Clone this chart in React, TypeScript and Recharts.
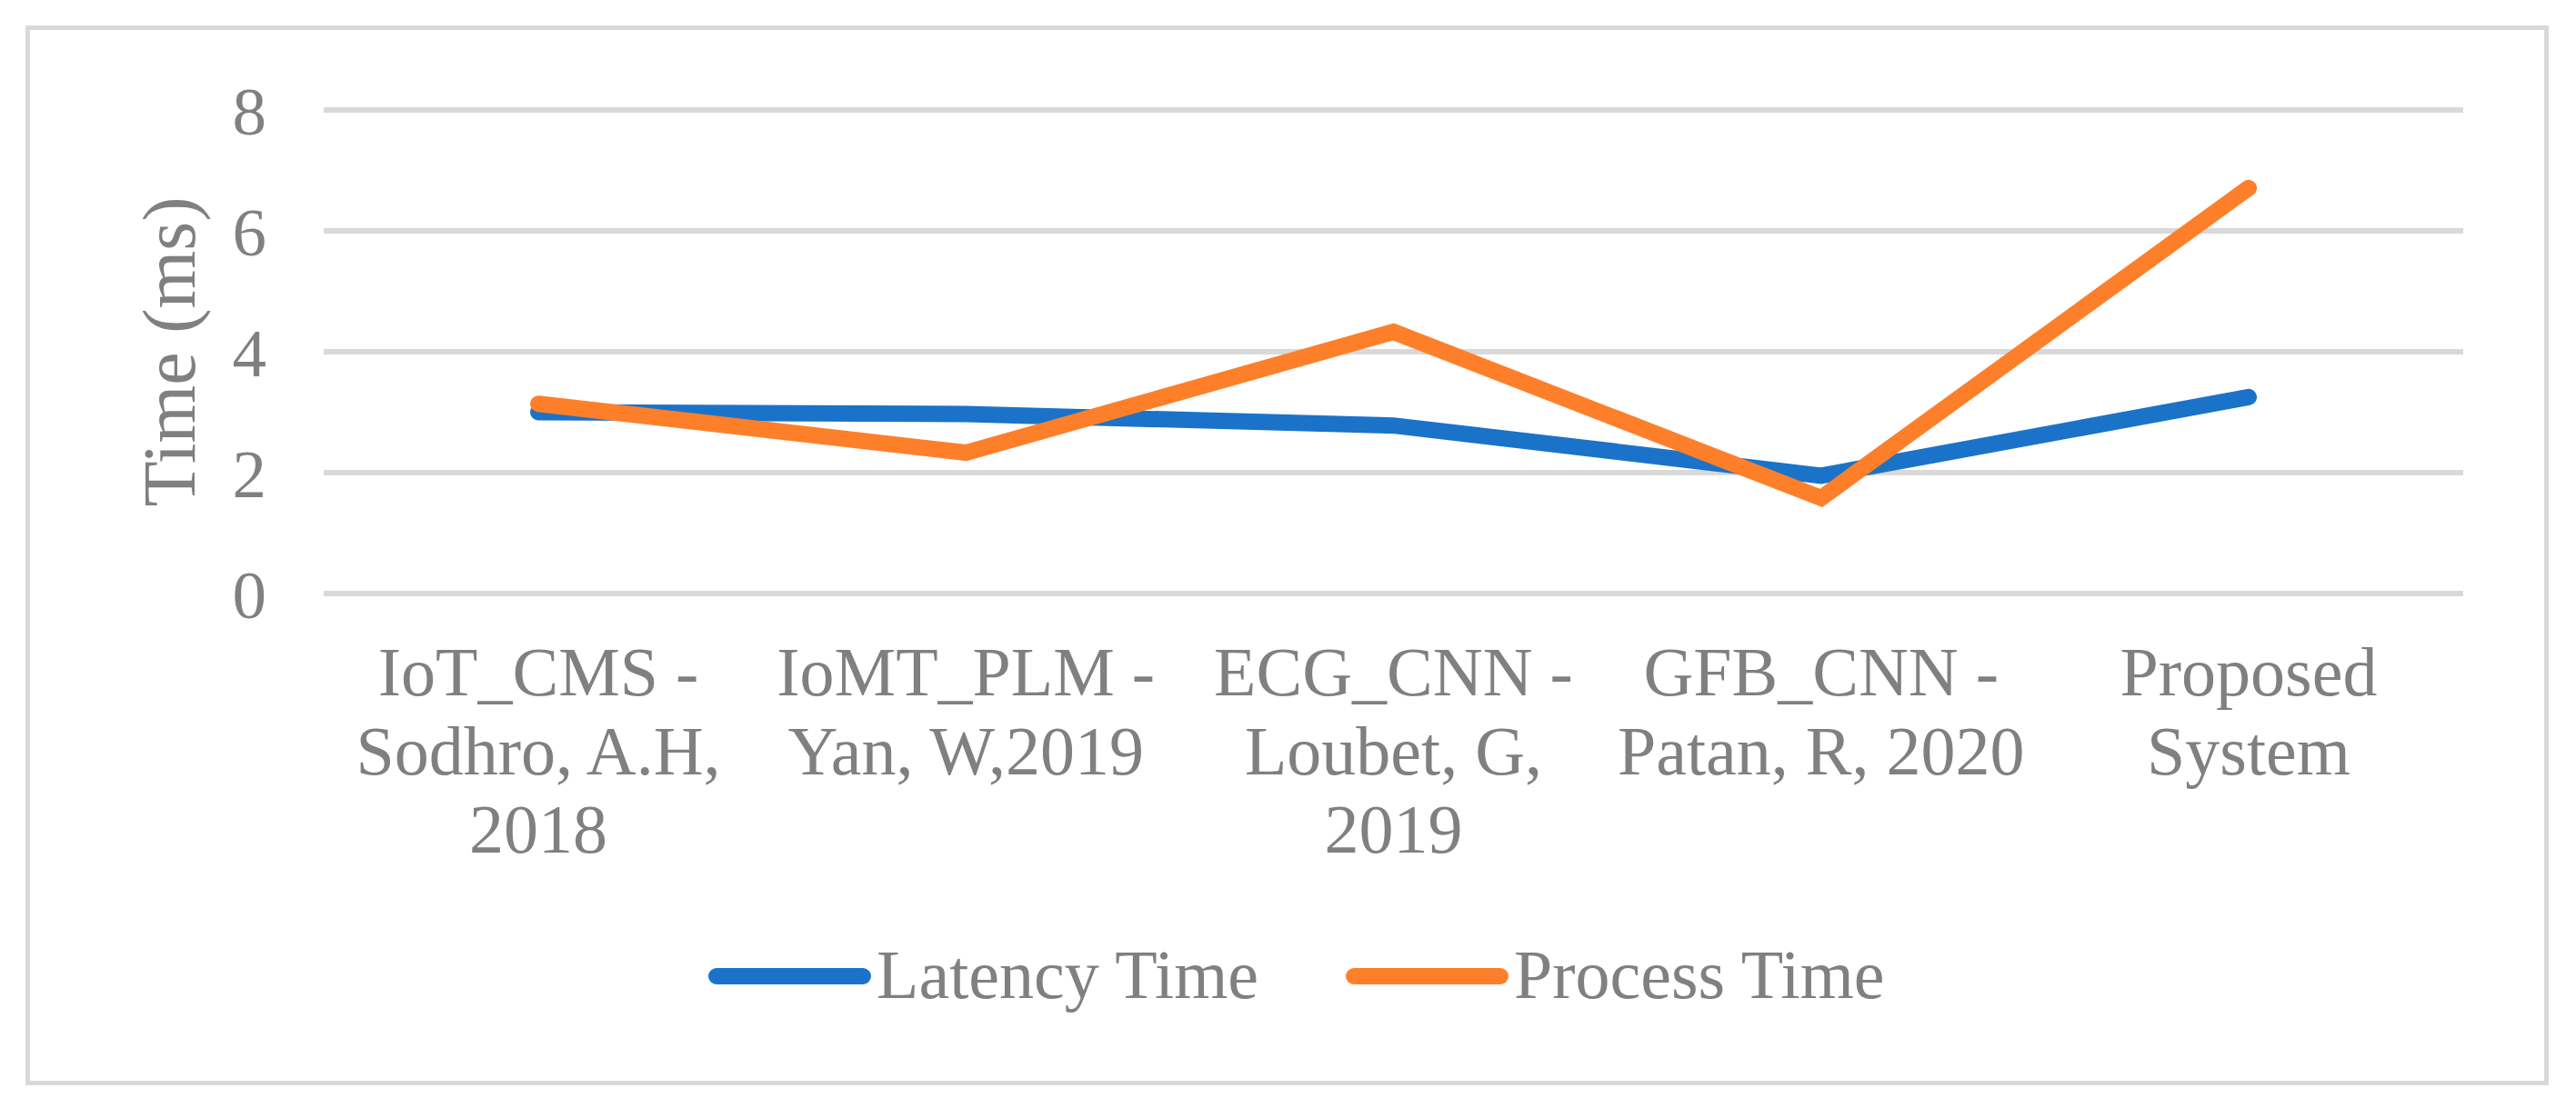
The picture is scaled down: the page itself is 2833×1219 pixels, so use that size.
import React from "react";
import { CartesianGrid, Line, LineChart, XAxis, YAxis } from "recharts";

const categories = [
  "IoT_CMS -\nSodhro, A.H,\n2018",
  "IoMT_PLM -\nYan, W,2019",
  "ECG_CNN -\nLoubet, G,\n2019",
  "GFB_CNN -\nPatan, R, 2020",
  "Proposed\nSystem",
];
const latencyTime = [3.0, 2.97, 2.78, 1.95, 3.25];
const processTime = [3.14, 2.33, 4.33, 1.58, 6.71];
const yTicks = [0, 2, 4, 6, 8];

const seriesNames = ["Latency Time", "Process Time"];
const seriesColors = ["#1A73C8", "#FE7F2A"];

const data = categories.map((name, i) => ({
  name,
  latency: latencyTime[i],
  process: processTime[i],
}));

const font = '"Liberation Serif", "Times New Roman", serif';
const textColor = "#808080";
const W = 2833;
const H = 1219;

function CategoryTick({ x, y, payload }: any) {
  const lines = String(payload.value).split("\n");
  return (
    <text x={x} textAnchor="middle" fill={textColor} fontFamily={font} fontSize={76}>
      {lines.map((line, i) => (
        <tspan key={i} x={x} y={y + 112 + i * 86.5}>
          {line}
        </tspan>
      ))}
    </text>
  );
}

function YTitle({ viewBox }: any) {
  const cx = 214;
  const cy = viewBox ? viewBox.y + viewBox.height / 2 : 387;
  return (
    <text
      x={cx}
      y={cy}
      transform={`rotate(-90, ${cx}, ${cy})`}
      textAnchor="middle"
      fill={textColor}
      fontFamily={font}
      fontSize={82}
    >
      Time (ms)
    </text>
  );
}

export default function App() {
  return (
    <div style={{ position: "absolute", left: 0, top: 0, width: W, height: H, background: "#fff" }}>
      <div
        style={{
          position: "absolute",
          left: 28,
          top: 28,
          width: 2775,
          height: 1166,
          border: "5px solid #D9D9D9",
          boxSizing: "border-box",
        }}
      />
      <div style={{ position: "absolute", left: 0, top: 0 }}>
        <LineChart width={W} height={H} data={data} margin={{ top: 121, right: 124, bottom: 0, left: 0 }}>
          <CartesianGrid vertical={false} stroke="#D9D9D9" strokeWidth={6} />
          <XAxis
            dataKey="name"
            height={566}
            axisLine={false}
            tickLine={false}
            tickSize={0}
            tickMargin={0}
            interval={0}
            padding={{ left: 236, right: 236 }}
            tick={<CategoryTick />}
          />
          <YAxis
            width={356}
            domain={[0, 8]}
            ticks={yTicks}
            axisLine={false}
            tickLine={false}
            tickSize={0}
            tickMargin={63}
            tick={{ fill: textColor, fontFamily: font, fontSize: 75 }}
            label={<YTitle />}
          />
          <Line
            dataKey="latency"
            name={seriesNames[0]}
            stroke={seriesColors[0]}
            strokeWidth={18}
            strokeLinecap="round"
            strokeLinejoin="miter"
            dot={false}
            activeDot={false}
            isAnimationActive={false}
          />
          <Line
            dataKey="process"
            name={seriesNames[1]}
            stroke={seriesColors[1]}
            strokeWidth={18}
            strokeLinecap="round"
            strokeLinejoin="miter"
            dot={false}
            activeDot={false}
            isAnimationActive={false}
          />
        </LineChart>
      </div>
      <svg width={W} height={H} style={{ position: "absolute", left: 0, top: 0, pointerEvents: "none" }}>
        {seriesNames.map((name, i) => {
          const x0 = i === 0 ? 788 : 1489;
          return (
            <g key={name}>
              <line
                x1={x0}
                x2={x0 + 161}
                y1={1074}
                y2={1074}
                stroke={seriesColors[i]}
                strokeWidth={18}
                strokeLinecap="round"
              />
              <text x={x0 + 176} y={1098} fill={textColor} fontFamily={font} fontSize={76}>
                {name}
              </text>
            </g>
          );
        })}
      </svg>
    </div>
  );
}
